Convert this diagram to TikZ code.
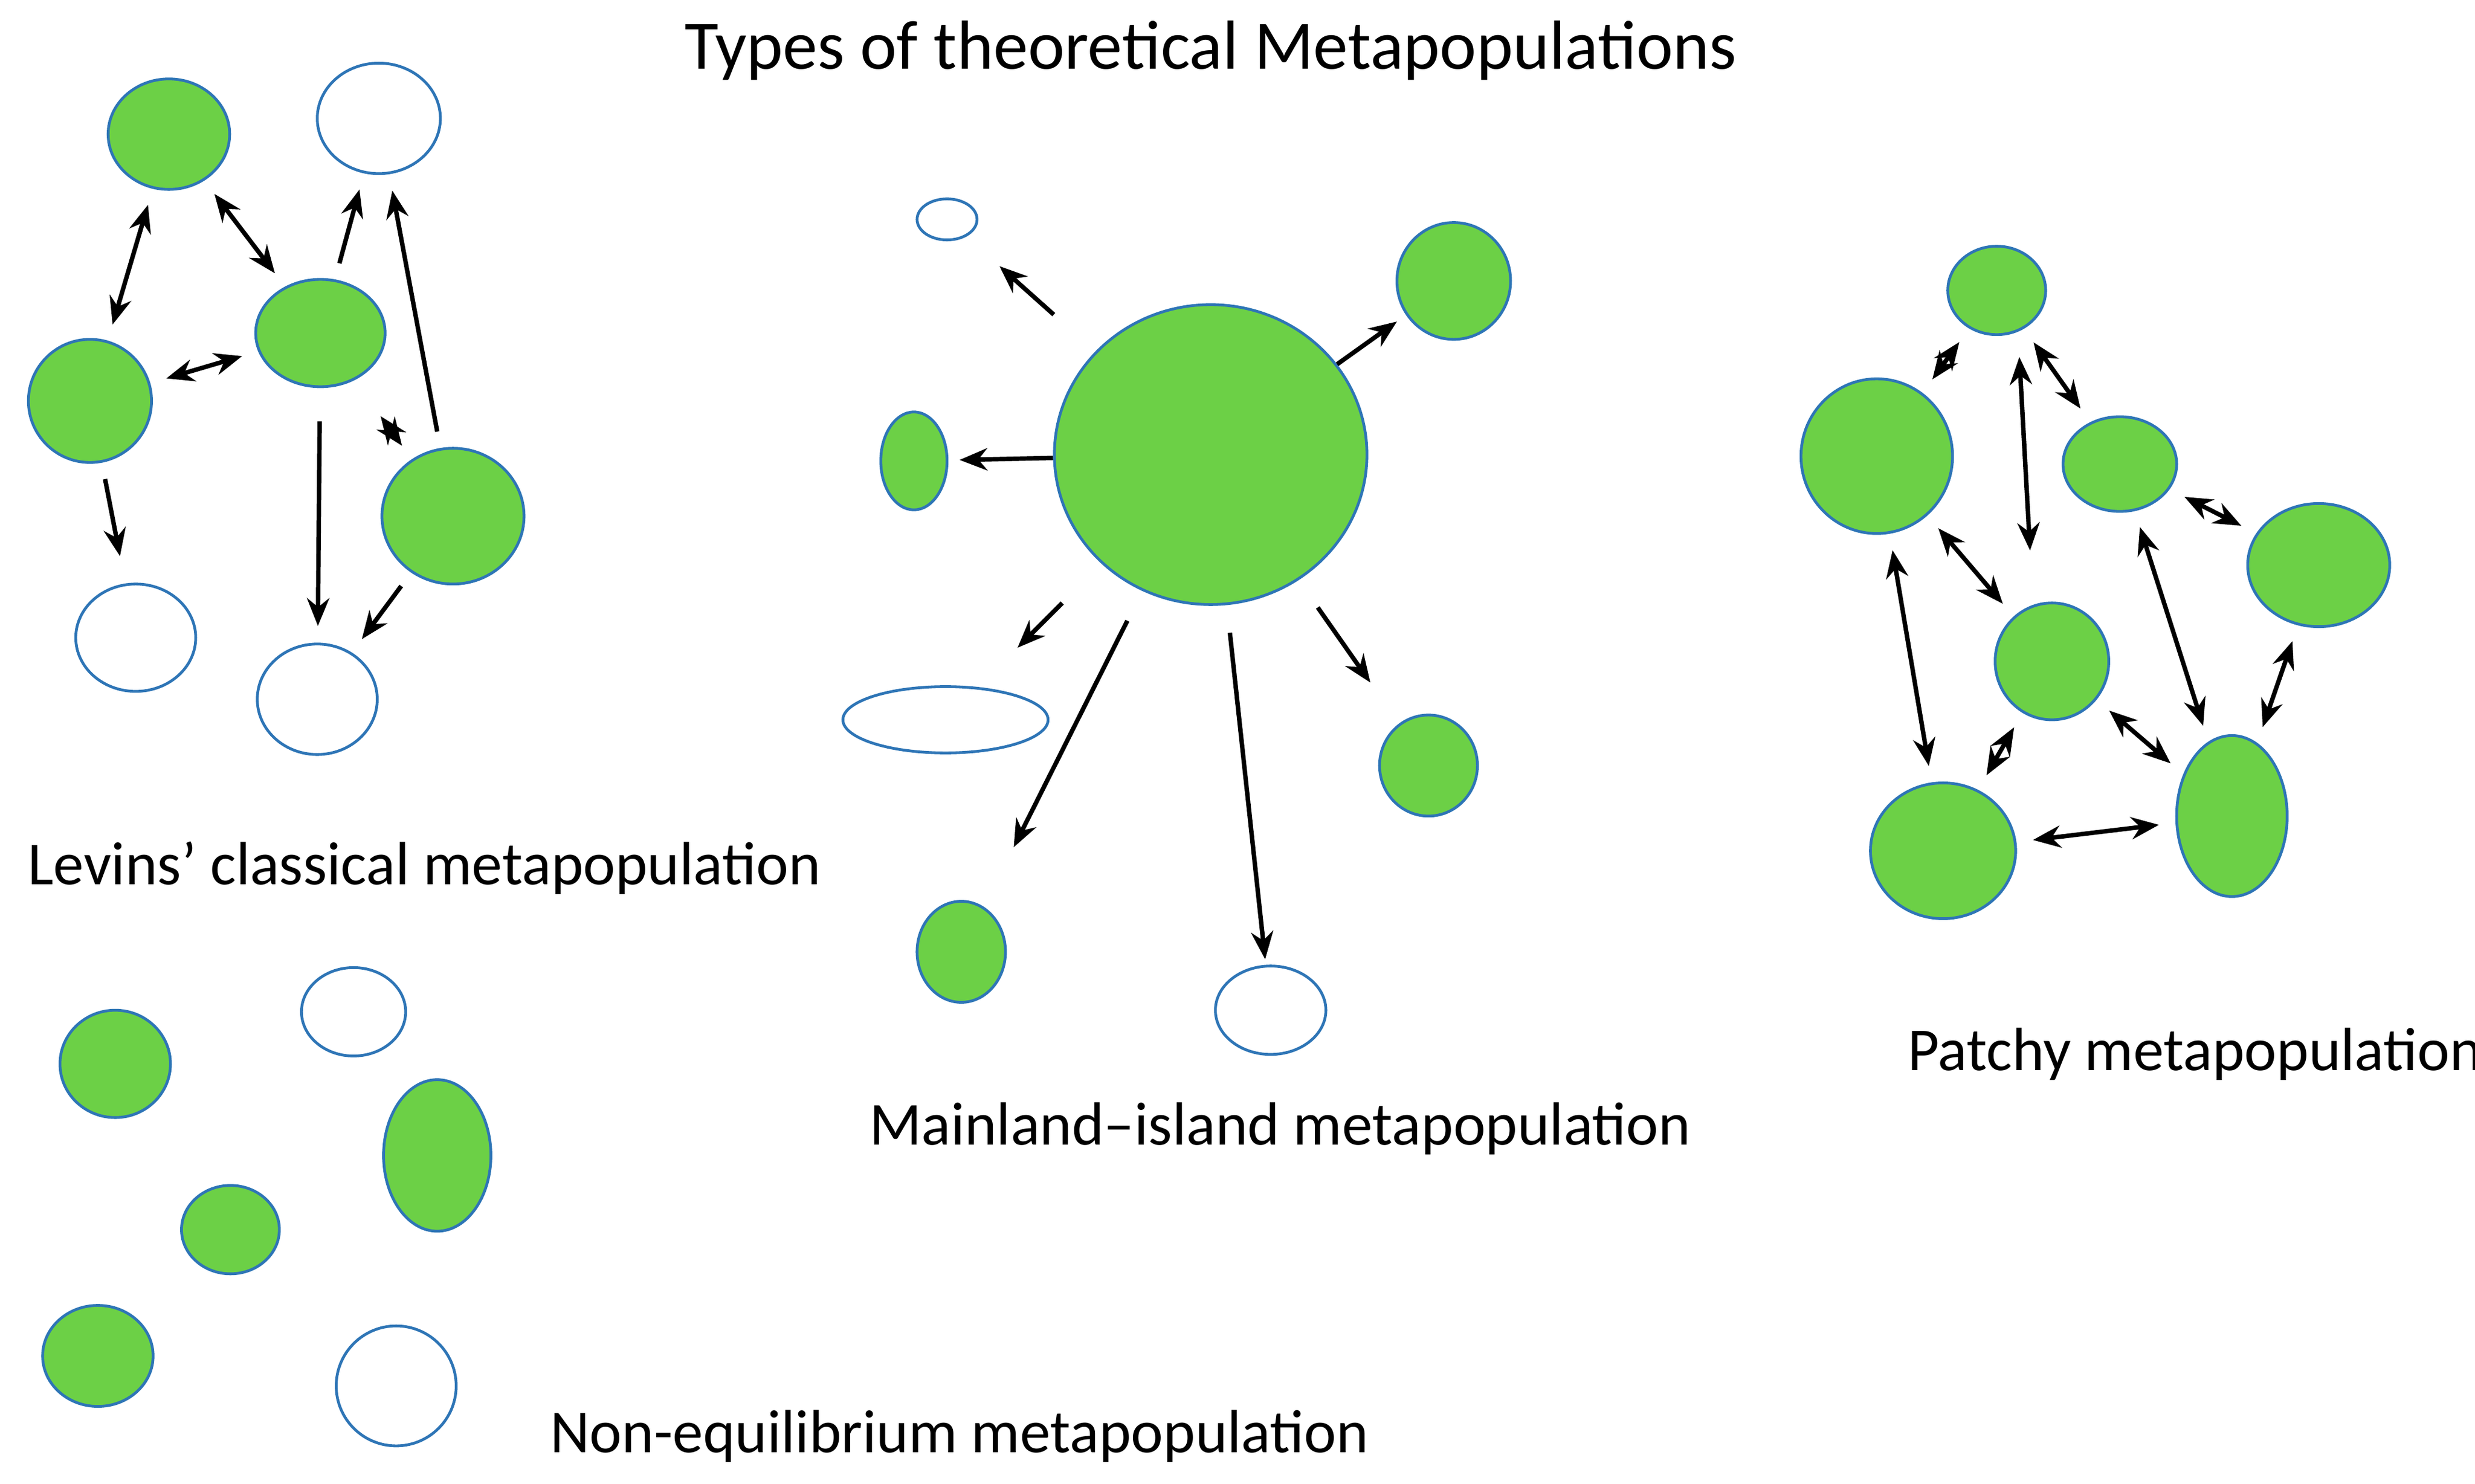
\documentclass[tikz,border=0pt]{standalone}
\usepackage{fontspec}
\setmainfont{Carlito}
\usetikzlibrary{shapes.geometric,arrows.meta}
\definecolor{pg}{RGB}{108,208,70}
\definecolor{pb}{RGB}{46,117,182}
\tikzset{
 p/.style n args={3}{ellipse,draw=pb,line width=0.5pt,fill=#3,minimum width={#1*0.01cm},minimum height={#2*0.01cm},inner sep=0},
 g/.style 2 args={p={#1}{#2}{pg}},
 w/.style 2 args={p={#1}{#2}{white}},
 a/.style={-{Stealth[length=5pt,width=4pt]},line width=0.8pt,shorten >=3pt,shorten <=3pt},
 d/.style={{Stealth[length=5pt,width=4pt]}-{Stealth[length=5pt,width=4pt]},line width=0.8pt,shorten >=3pt,shorten <=3pt},
 lab/.style={font=\fontsize{11}{13}\selectfont,anchor=west,inner sep=0}
}
\begin{document}
\begin{tikzpicture}[x=0.01cm,y=-0.01cm]
\useasboundingbox (0,0) rectangle (1568,940);
\node[font=\fontsize{12.5}{15}\selectfont] (title) at (767,32) {Types of theoretical Metapopulations};
% Levins
\node[g={77}{70}] (L1) at (107,85) {};
\node[w={78}{70}] (L2) at (240,75) {};
\node[g={78}{78}] (L3) at (57,254) {};
\node[g={82}{68}] (L4) at (203,211) {};
\node[g={90}{86}] (L5) at (287,327) {};
\node[w={76}{68}] (L6) at (86,404) {};
\node[w={76}{70}] (L7) at (201,443) {};
\draw[d] (L1) -- (L3);
\draw[d] (L1) -- (L4);
\draw[d] (L3) -- (L4);
\draw[a] (L4) -- (L2);
\draw[a] (L5) -- (L2);
\draw[d,shorten <=8pt] (L4) -- (L5);
\draw[a,shorten <=6pt] (L4) -- (L7);
\draw[a] (L5) -- (L7);
\draw[a,shorten <=3pt,shorten >=5pt] (L3) -- (L6);
\node[lab] (lt) at (17,550) {Levins’ classical metapopulation};
% Mainland
\node[g={198}{190}] (M) at (767,288) {};
\node[w={38}{26}] (M1) at (600,139) {};
\node[g={42}{62}] (M2) at (579,292) {};
\node[w={130}{42}] (M3) at (599,456) {};
\node[g={72}{74}] (M4) at (921,178) {};
\node[g={62}{64}] (M5) at (905,485) {};
\node[g={56}{64}] (M6) at (609,603) {};
\node[w={70}{56}] (M7) at (805,640) {};
\draw[a,shorten <=10pt,shorten >=8pt] (M) -- (M1);
\draw[a,shorten <=0pt,shorten >=2pt] (M) -- (M2);
\draw[a,shorten <=0pt,shorten >=2pt] (M) -- (M4);
\draw[a,shorten <=10pt,shorten >=10pt] (M) -- (M3);
\draw[a,shorten <=6pt,shorten >=9pt] (M) -- (M5);
\draw[a,shorten <=6pt,shorten >=12pt] (M) -- (M6);
\draw[a,shorten <=5pt,shorten >=1pt] (M) -- (M7);
\node[lab] (mt) at (550,715) {Mainland–island metapopulation};
% Patchy
\node[g={62}{56}] (P1) at (1265,184) {};
\node[g={96}{98}] (P2) at (1189,289) {};
\node[g={72}{60}] (P3) at (1343,294) {};
\node[g={90}{78}] (P4) at (1469,358) {};
\node[g={72}{74}] (P5) at (1300,419) {};
\node[g={92}{86}] (P6) at (1231,539) {};
\node[g={70}{102}] (P7) at (1414,517) {};
\draw[d] (P1) -- (P2);
\draw[d,shorten <=12pt,shorten >=20pt] ([xshift=0.12cm]P1.center) -- ([xshift=-0.1cm]P5.center);
\draw[d] (P1) -- (P3);
\draw[d] (P3) -- (P4);
\draw[d] (P2) -- (P5);
\draw[d] (P3) -- (P7);
\draw[d] (P4) -- (P7);
\draw[d] (P2) -- (P6);
\draw[d] (P5) -- (P6);
\draw[d] (P5) -- (P7);
\draw[d] (P6) -- (P7);
\node[lab] (pt) at (1208,668) {Patchy metapopulation};
% Non-equilibrium
\node[g={70}{68}] (N1) at (73,674) {};
\node[w={66}{56}] (N2) at (224,641) {};
\node[g={68}{96}] (N3) at (277,732) {};
\node[g={62}{56}] (N4) at (146,779) {};
\node[g={70}{64}] (N5) at (62,859) {};
\node[w={76}{76}] (N6) at (251,878) {};
\node[lab] (nt) at (348,910) {Non-equilibrium metapopulation};
\end{tikzpicture}
\end{document}
